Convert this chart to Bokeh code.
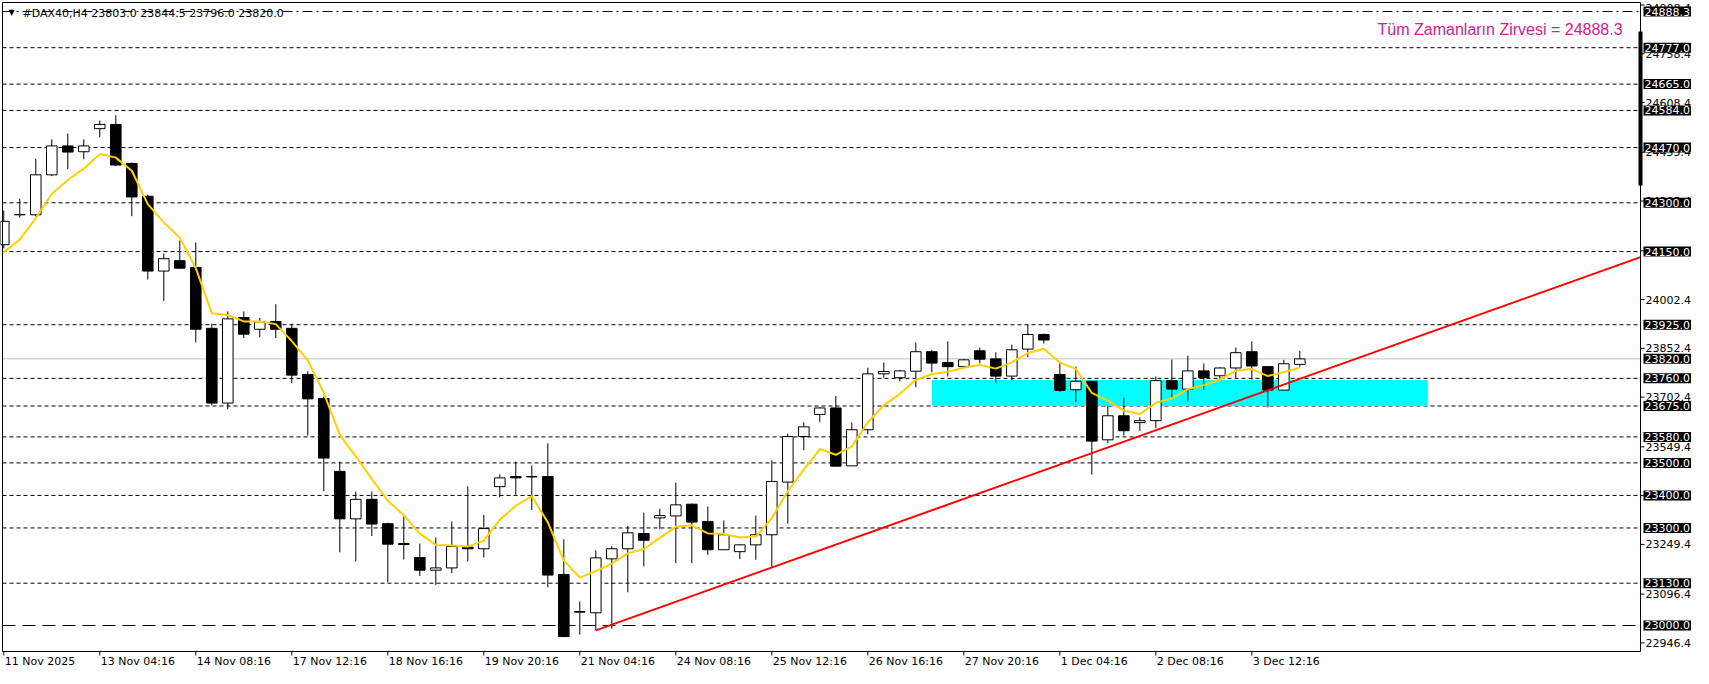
import numpy as np
import pandas as pd
from bokeh.plotting import figure
from bokeh.models import ColumnDataSource, Label, Range1d
from bokeh.core.properties import value
from bokeh.embed import file_html
from bokeh.resources import INLINE

# ---------------- data ----------------
symbol = "#DAX40,H4"

opens = [24171, 24263, 24263, 24386, 24475, 24457, 24528, 24541, 24421, 24320,
         24090, 24122, 24101, 23914, 23684, 23947, 23911, 23935, 23914, 23772,
         23698, 23474, 23328, 23388, 23313, 23252, 23209, 23170, 23177, 23241,
         23236, 23427, 23458, 23457, 23458, 23157, 23043, 23039, 23205, 23236,
         23283, 23331, 23337, 23373, 23320, 23233, 23227, 23248, 23279, 23441,
         23581, 23649, 23669, 23491, 23602, 23774, 23762, 23782, 23842, 23809,
         23796, 23845, 23820, 23767, 23850, 23895, 23772, 23725, 23751, 23571,
         23645, 23624, 23630, 23753, 23727, 23783, 23768, 23792, 23842, 23796,
         23724, 23803.0]
highs = [24276, 24312, 24435, 24495, 24513, 24495, 24553, 24569, 24424, 24325,
         24144, 24184, 24178, 23928, 23966, 23966, 23946, 23988, 23928, 23782,
         23704, 23504, 23412, 23412, 23316, 23336, 23252, 23271, 23320, 23428,
         23340, 23465, 23504, 23492, 23560, 23265, 23074, 23231, 23244, 23306,
         23347, 23359, 23439, 23375, 23366, 23323, 23249, 23338, 23508, 23590,
         23625, 23671, 23706, 23624, 23793, 23809, 23786, 23870, 23848, 23874,
         23820, 23855, 23840, 23864, 23924, 23898, 23807, 23796, 23751, 23676,
         23701, 23640, 23766, 23818, 23830, 23806, 23794, 23855, 23874, 23797,
         23817, 23844.5]
lows = [24160, 24254, 24258, 24382, 24404, 24434, 24502, 24413, 24259, 24064,
        23998, 24097, 23871, 23677, 23665, 23884, 23887, 23884, 23745, 23584,
        23413, 23225, 23197, 23275, 23133, 23203, 23152, 23125, 23161, 23197,
        23209, 23395, 23402, 23355, 23118, 22964, 22972, 22985, 22990, 23102,
        23182, 23297, 23192, 23192, 23217, 23233, 23204, 23202, 23179, 23313,
        23539, 23625, 23490, 23491, 23588, 23762, 23751, 23733, 23779, 23766,
        23796, 23806, 23747, 23754, 23825, 23867, 23718, 23687, 23464, 23561,
        23584, 23598, 23607, 23702, 23690, 23725, 23754, 23762, 23756, 23671,
        23724, 23796.0]
closes = [24243, 24264, 24386, 24475, 24456, 24475, 24541, 24416, 24318, 24090,
          24128, 24099, 23911, 23684, 23943, 23896, 23934, 23911, 23770, 23697,
          23515, 23328, 23388, 23312, 23250, 23249, 23170, 23177, 23243, 23236,
          23298, 23454, 23454, 23458, 23155, 22966, 23041, 23208, 23236, 23285,
          23262, 23338, 23371, 23318, 23233, 23279, 23248, 23279, 23443, 23581,
          23611, 23669, 23490, 23602, 23774, 23781, 23783, 23842, 23807, 23796,
          23817, 23819, 23767, 23848, 23895, 23878, 23723, 23751, 23567, 23645,
          23599, 23630, 23753, 23727, 23783, 23762, 23792, 23839, 23798, 23724,
          23805, 23820.0]

date_ticks = [0, 6, 12, 18, 24, 30, 36, 42, 48, 54, 60, 66, 72, 78]
date_labels = ["11 Nov 2025", "13 Nov 04:16", "14 Nov 08:16", "17 Nov 12:16",
               "18 Nov 16:16", "19 Nov 20:16", "21 Nov 04:16", "24 Nov 08:16",
               "25 Nov 12:16", "26 Nov 16:16", "27 Nov 20:16", "1 Dec 04:16",
               "2 Dec 08:16", "3 Dec 12:16"]

price_ticks = [22946.4, 23096.4, 23249.4, 23399.4, 23549.4, 23702.4, 23852.4,
               24002.4, 24152.4, 24305.4, 24455.4, 24608.4, 24758.4, 24908.4]

level_prices = [24777.0, 24665.0, 24584.0, 24470.0, 24300.0, 24150.0, 23925.0,
                23760.0, 23675.0, 23580.0, 23500.0, 23400.0, 23300.0, 23130.0]
ath_price = 24888.3
support_price = 23000.0
bid_price = 23820.0
ath_text = "Tüm Zamanların Zirvesi"

zone_bars = [58, 89]
zone_prices = [23675.0, 23755.0]
trend_bars = [37, 68]
trend_prices = [22985.0, 23530.0]
ema_period = 5
ema_seed = 24148.0
scale_bar_prices = [24353.0, 24827.0]
note_position = [101.17, 24833.0]

x_view = [-0.08, 102.29]         # bars visible in the chart box
y_view = [22920.0, 24916.0]      # prices visible in the chart box

# ---------------- layout (pixels inside the figure) ----------------
FIG_W, FIG_H = 1693, 668
BOX_L, BOX_T, BOX_R, BOX_B = 2, 2, 1640, 651
ppb = (BOX_R - BOX_L) / (x_view[1] - x_view[0])     # px per bar
ppp = (BOX_B - BOX_T) / (y_view[1] - y_view[0])     # px per price unit
x_full = (x_view[0] - BOX_L / ppb, x_view[0] + (FIG_W - BOX_L) / ppb)
y_full = (y_view[1] - (FIG_H - BOX_T) / ppp, y_view[1] + BOX_T / ppp)


def dx(px):
    return px / ppb


def dy(px):
    return px / ppp


# ---------------- derived ----------------
n = len(closes)
df = pd.DataFrame({"x": np.arange(n), "open": opens, "high": highs,
                   "low": lows, "close": closes})
df["top"] = df[["open", "close"]].max(axis=1)
df["bottom"] = df[["open", "close"]].min(axis=1)
up = df[df["close"] >= df["open"]]
down = df[df["close"] < df["open"]]

alpha = 2.0 / (ema_period + 1)
ema = [ema_seed]
for c in closes[1:]:
    ema.append(ema[-1] + alpha * (c - ema[-1]))

# ---------------- figure ----------------
p = figure(width=FIG_W, height=FIG_H, title=None,
           x_range=Range1d(*x_full), y_range=Range1d(*y_full),
           x_axis_type=None, y_axis_type=None,
           output_backend="svg", toolbar_location=None,
           min_border=0)
p.xgrid.visible = False
p.ygrid.visible = False
p.outline_line_color = None
p.background_fill_color = "white"
p.border_fill_color = "white"

AX_FONT = "DejaVu Sans"
x0, x1 = x_view
y0, y1 = y_view


def hlines(prices, color, dash):
    k = len(prices)
    p.segment(x0=[x0] * k, y0=prices, x1=[x1] * k, y1=prices,
              line_color=color, line_width=1, line_dash=dash)


hlines(level_prices, "black", "4 3")
hlines([ath_price], "black", "10 4 2 4")
hlines([support_price], "black", "13 7")
hlines([bid_price], "#C0C0C0", "solid")

# zone rectangle
p.quad(left=[zone_bars[0]], right=[zone_bars[1]],
       bottom=[zone_prices[0]], top=[zone_prices[1]],
       fill_color="#00FFFF", line_color=None)

# candles
p.segment(x0="x", y0="high", x1="x", y1="low", source=ColumnDataSource(df),
          line_color="black", line_width=1)
p.vbar(x="x", width=0.66, top="top", bottom="bottom",
       source=ColumnDataSource(up), fill_color="white", line_color="black",
       line_width=1)
p.vbar(x="x", width=0.66, top="top", bottom="bottom",
       source=ColumnDataSource(down), fill_color="black", line_color="black",
       line_width=1)

# EMA(5) of closes
p.line(df["x"], ema, line_color="#FFD000", line_width=2)

# trend line, extended to the right edge of the chart box
slope = (trend_prices[1] - trend_prices[0]) / (trend_bars[1] - trend_bars[0])
p.line([trend_bars[0], x1],
       [trend_prices[0], trend_prices[0] + slope * (x1 - trend_bars[0])],
       line_color="#FF0000", line_width=2)

# chart box border
p.quad(left=[x0], right=[x1], bottom=[y0], top=[y1],
       fill_color=None, line_color="black", line_width=1)

# price scale: ticks and labels (keep the topmost label inside the canvas)
k = len(price_ticks)
p.segment(x0=[x1] * k, y0=price_ticks, x1=[x1 + dx(4)] * k, y1=price_ticks,
          line_color="black", line_width=1)
label_y = [min(t, y_full[1] - dy(7)) for t in price_ticks]
p.text(x=[x1 + dx(5)] * k, y=label_y, text=[f"{t:.1f}" for t in price_ticks],
       text_font=value(AX_FONT), text_font_size="11px", text_color="black",
       text_align="left", text_baseline="middle")

# thick marker on the price scale
p.segment(x0=[x1], y0=[scale_bar_prices[0]], x1=[x1], y1=[scale_bar_prices[1]],
          line_color="black", line_width=4)

# time scale: ticks and labels
m = len(date_ticks)
p.segment(x0=date_ticks, y0=[y0] * m, x1=date_ticks, y1=[y0 - dy(4)] * m,
          line_color="black", line_width=1)
p.text(x=[t + dx(1) for t in date_ticks], y=[y0 - dy(10)] * m, text=date_labels,
       text_font=value(AX_FONT), text_font_size="11px", text_color="black",
       text_align="left", text_baseline="middle")

# boxed prices on the price scale
for pr in [ath_price] + level_prices + [bid_price, support_price]:
    p.add_layout(Label(x=x1, y=pr, x_offset=3, text=f"{pr:.1f}",
                       text_font=AX_FONT, text_font_size="11px",
                       text_color="white", text_align="left",
                       text_baseline="middle",
                       background_fill_color="black", padding=1))

# header text
p.add_layout(Label(x=x0, y=ath_price, x_offset=6, y_offset=-1, text="▼",
                   text_font=AX_FONT, text_font_size="8px", text_color="black",
                   text_baseline="middle"))
header = f"{symbol}  {opens[-1]:.1f} {highs[-1]:.1f} {lows[-1]:.1f} {closes[-1]:.1f}"
p.add_layout(Label(x=x0 + dx(20), y=ath_price, y_offset=-2, text=header,
                   text_font=AX_FONT, text_font_size="11px", text_color="black",
                   text_baseline="middle", text_align="left"))

# all-time-high note
p.add_layout(Label(x=note_position[0], y=note_position[1],
                   text=f"{ath_text} = {ath_price}",
                   text_font="Liberation Sans", text_font_size="16px",
                   text_color="#D4208F", text_align="right",
                   text_baseline="middle"))

open("out.html", "w").write(file_html(p, INLINE))
